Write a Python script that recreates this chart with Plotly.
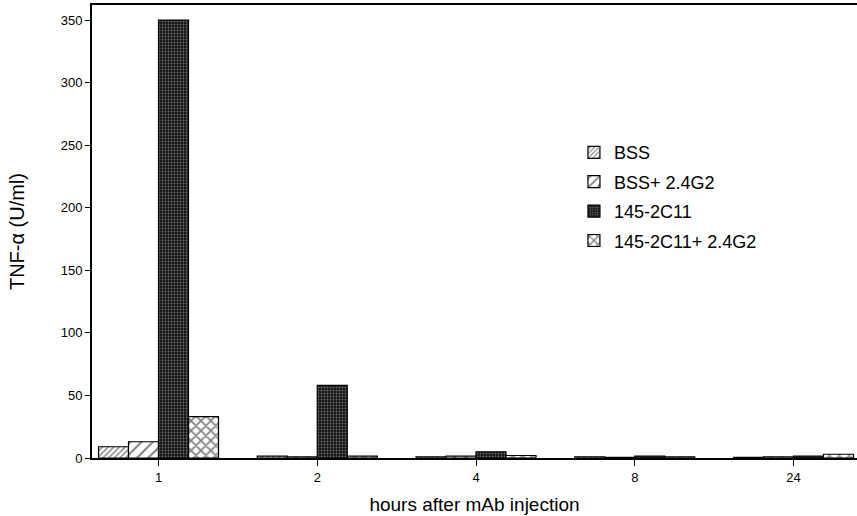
import plotly.graph_objects as go

# Sampling times (hours after mAb injection)
hours = ["1", "2", "4", "8", "24"]

# TNF-alpha serum levels (U/ml) for each treatment group
bss = [9, 1.5, 1, 1, 0.5]
bss_24g2 = [13, 1, 1.5, 0.5, 1]
c145_2c11 = [350, 58, 5, 1.5, 1.5]
c145_2c11_24g2 = [33, 1.5, 2, 1, 3]

series_names = ["BSS", "BSS+ 2.4G2", "145-2C11", "145-2C11+ 2.4G2"]

FONT = "Liberation Sans, Arial, Helvetica, sans-serif"

styles = [
    dict(shape="/", size=4, solidity=0.35, fgcolor="black", bgcolor="white"),
    dict(shape="/", size=8, solidity=0.25, fgcolor="black", bgcolor="white"),
    dict(shape=".", size=3, solidity=0.3, fgcolor="#c8c8c8", bgcolor="#151515"),
    dict(shape="x", size=7, solidity=0.4, fgcolor="black", bgcolor="white"),
]

fig = go.Figure()
for i, (name, vals, pat) in enumerate(
    zip(series_names, [bss, bss_24g2, c145_2c11, c145_2c11_24g2], styles)
):
    fig.add_trace(
        go.Bar(
            x=hours,
            y=vals,
            name=name,
            legendgroup=f"g{i}",
            marker=dict(
                color=pat["bgcolor"],
                line=dict(color="black", width=1.2),
                pattern=dict(
                    shape=pat["shape"],
                    size=pat["size"],
                    solidity=pat["solidity"],
                    fgcolor=pat["fgcolor"],
                    bgcolor=pat["bgcolor"],
                    fillmode="overlay",
                ),
            ),
        )
    )

fig.update_layout(
    width=857,
    height=516,
    margin=dict(l=92, r=0, t=5, b=58),
    paper_bgcolor="white",
    plot_bgcolor="white",
    barmode="group",
    bargap=0.244,
    bargroupgap=0,
    font=dict(family=FONT, color="black", size=13),
    showlegend=True,
    legend=dict(
        x=0.63,
        y=0.715,
        xanchor="left",
        yanchor="top",
        font=dict(size=18, family=FONT),
        tracegroupgap=3,
        bgcolor="rgba(0,0,0,0)",
    ),
    xaxis=dict(
        type="category",
        range=[-0.419, 4.40],
        showline=True,
        linecolor="black",
        linewidth=1.8,
        mirror=True,
        ticks="outside",
        ticklen=6,
        tickcolor="black",
        tickfont=dict(size=13),
        title=dict(text="hours after mAb injection", font=dict(size=19), standoff=14),
        showgrid=False,
        zeroline=False,
    ),
    yaxis=dict(
        range=[0, 362],
        tickvals=[0, 50, 100, 150, 200, 250, 300, 350],
        showline=True,
        linecolor="black",
        linewidth=1.8,
        ticks="outside",
        ticklen=5,
        tickcolor="black",
        tickfont=dict(size=13),
        title=dict(text="TNF-α (U/ml)", font=dict(size=20), standoff=31),
        showgrid=False,
        zeroline=False,
    ),
)

fig.write_html("out.html")
